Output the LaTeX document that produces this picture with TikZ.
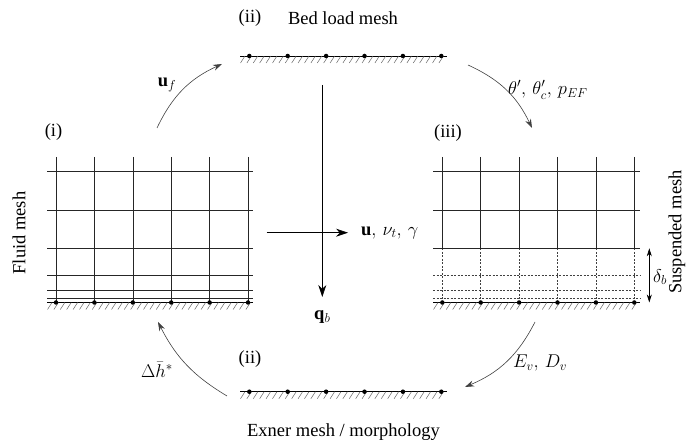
\RequirePackage{fix-cm}
\documentclass[tikz,border=0pt]{standalone}
\usepackage{fontspec}
\setmainfont{Liberation Serif}
\usetikzlibrary{arrows.meta}
\newcommand\bedhatch[2]{%
  \foreach \k in {0,...,31}{\draw[hatch] ({#1+5+6.4*\k},#2) -- ++(-4.5,-7);}}
\begin{document}
\begin{tikzpicture}[x=1pt,y=1pt,
  every node/.style={font=\fontsize{18.5}{22}\selectfont, inner sep=0pt},
  grid/.style={line width=0.6pt, black!85},
  dgrid/.style={line width=0.5pt, black!75, dash pattern=on 2pt off 1.5pt},
  bedline/.style={line width=0.8pt, black},
  hatch/.style={line width=0.5pt, black!60},
  bnode/.style={circle, fill=black, inner sep=0pt, minimum size=4.5pt},
  flow/.style={line width=0.6pt, black!75, -{Stealth[length=9pt,width=6pt]}},
  plain/.style={line width=0.6pt, black, -{Stealth[length=12pt,width=8pt]}},
  dbl/.style={line width=0.6pt, black, {Stealth[length=8pt,width=5pt]}-{Stealth[length=8pt,width=5pt]}}
]
\useasboundingbox (0,0) rectangle (686,444);

% ---------- left (fluid) mesh ----------
\foreach \i in {0,...,5} \draw[grid] ({56+38.4*\i},287) -- ({56+38.4*\i},141.5);
\foreach \yy in {272.3,234,195.7,169,153.3,145.7} \draw[grid] (47,\yy) -- (253,\yy);
\draw[bedline] (47,141.5) -- (253,141.5);
\bedhatch{47}{141.5}
\foreach \i in {0,...,5} \node[bnode] (lb\i) at ({56+38.4*\i},141.5) {};

% ---------- right (suspended) mesh ----------
\foreach \i in {0,...,5} {
  \draw[grid] ({442.3+38.4*\i},287) -- ({442.3+38.4*\i},195.7);
  \draw[dgrid] ({442.3+38.4*\i},195.7) -- ({442.3+38.4*\i},141.5);
}
\foreach \yy in {272.3,234,195.7} \draw[grid] (433,\yy) -- (640,\yy);
\foreach \yy in {169,153.3,145.7} \draw[dgrid] (433,\yy) -- (640,\yy);
\draw[bedline] (433,141.5) -- (640,141.5);
\bedhatch{433}{141.5}
\foreach \i in {0,...,5} \node[bnode] (rb\i) at ({442.3+38.4*\i},141.5) {};

% ---------- top bed load mesh ----------
\draw[bedline] (240,388) -- (447,388);
\bedhatch{240}{388}
\foreach \i in {0,...,5} \node[bnode] (tb\i) at ({249.3+38.4*\i},388) {};

% ---------- bottom Exner mesh ----------
\draw[bedline] (240,52.3) -- (447,52.3);
\bedhatch{240}{52.3}
\foreach \i in {0,...,5} \node[bnode] (bb\i) at ({249.3+38.4*\i},52.3) {};

% ---------- titles ----------
\node (labi) at (53.5,312) {(i)};
\node (labiii) at (448,311) {(iii)};
\node (labiit) at (250,426) {(ii)};
\node (bedload) at (343,426) {Bed load mesh};
\node (labiib) at (250,85) {(ii)};
\node (exner) at (343.5,12.3) {Exner mesh / morphology};
\node[rotate=90] (fluid) at (19,211) {Fluid mesh};
\node[rotate=90] (susp) at (677,212) {Suspended mesh};

% ---------- cycle arrows ----------
\coordinate (ufs) at (157,316); \coordinate (ufe) at (222,380);
\draw[flow] (ufs) to[bend left=20] (ufe);
\node (uf) at (167,359) {$\mathbf{u}_f$};

\coordinate (ths) at (468,379); \coordinate (the) at (532,316);
\draw[flow] (ths) to[bend left=20] (the);
\node[anchor=west] (th) at (508,354) {$\theta',\,\theta'_c,\,p_{EF}$};

\coordinate (evs) at (535,122); \coordinate (eve) at (465,57);
\draw[flow] (evs) to[bend left=20] (eve);
\node[anchor=west] (ev) at (513,81) {$E_v,\,D_v$};

\coordinate (dhs) at (227,48); \coordinate (dhe) at (158,122);
\draw[flow] (dhs) to[bend left=16] (dhe);
\node (dh) at (157,74) {$\Delta\bar{h}^{*}$};

% ---------- central arrows ----------
\coordinate (qbs) at (322.3,359); \coordinate (qbe) at (322.3,147);
\draw[plain] (qbs) -- (qbe);
\node (qb) at (322.3,127) {$\mathbf{q}_b$};

\coordinate (uas) at (266.7,211.3); \coordinate (uae) at (348,211.3);
\draw[plain] (uas) -- (uae);
\node[anchor=west] (uvg) at (361,211.3) {$\mathbf{u},\,\nu_t,\,\gamma$};

% ---------- delta_b ----------
\coordinate (dbt) at (649.3,195.7); \coordinate (dbb) at (649.3,141.5);
\draw[dbl] (dbt) -- (dbb);
\node[anchor=west] (db) at (653,167) {$\delta_b$};
\end{tikzpicture}
\end{document}
